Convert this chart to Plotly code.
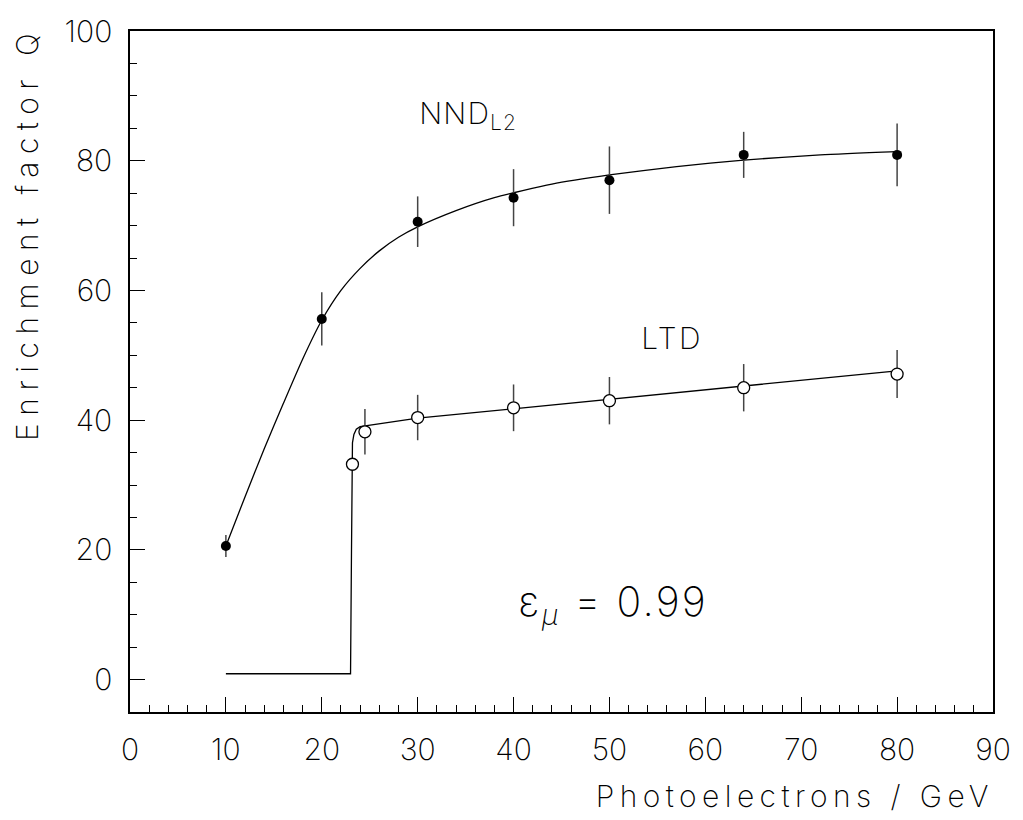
import plotly.graph_objects as go

# ---- data ----
nnd_x = [10, 20, 30, 40, 50, 64, 80]
nnd_y = [20.6, 55.6, 70.6, 74.3, 77.0, 80.9, 80.9]
nnd_err = [1.7, 4.1, 3.9, 4.4, 5.2, 3.55, 4.85]

ltd_x = [23.2, 24.5, 30, 40, 50, 64, 80]
ltd_y = [33.2, 38.2, 40.4, 41.9, 43.0, 45.0, 47.1]
ltd_err = [0, 3.5, 3.5, 3.6, 3.65, 3.65, 3.7]

# fitted curves
nnd_fit_x = [10, 12, 14, 16, 18, 20, 22, 24, 26, 28, 30, 34, 38, 44, 50, 57, 64, 72, 80]
nnd_fit_y = [20.6, 28.2, 35.6, 42.6, 49.4, 55.4, 60.0, 63.4, 66.1, 68.2, 69.8, 72.3, 74.3, 76.4, 77.8, 79.1, 80.1, 80.9, 81.4]

ltd_fit_x = [10, 23.0, 23.1, 23.2, 23.35, 23.6, 24.0, 30, 80]
ltd_fit_y = [0.9, 0.9, 20.0, 36.5, 37.8, 38.6, 39.0, 40.3, 47.6]

x_ticks = [0, 10, 20, 30, 40, 50, 60, 70, 80, 90]
y_ticks = [0, 20, 40, 60, 80, 100]

FS = 30
FONT = dict(family="Inter", size=FS, color="black", weight=200)
FONT_EPS = dict(family="Inter", size=41, color="black", weight=200)

fig = go.Figure()

fig.add_trace(go.Scatter(x=nnd_fit_x, y=nnd_fit_y, mode="lines",
                         line=dict(color="black", width=1.3, shape="spline", smoothing=0.6),
                         hoverinfo="skip", showlegend=False))
fig.add_trace(go.Scatter(x=ltd_fit_x, y=ltd_fit_y, mode="lines",
                         line=dict(color="black", width=1.3),
                         hoverinfo="skip", showlegend=False))

fig.add_trace(go.Scatter(x=nnd_x, y=nnd_y, mode="markers",
                         marker=dict(color="black", size=10, symbol="circle"),
                         error_y=dict(type="data", array=nnd_err, width=0, thickness=1.5, color="#444"),
                         showlegend=False))
fig.add_trace(go.Scatter(x=ltd_x, y=ltd_y, mode="markers",
                         marker=dict(color="white", size=12, symbol="circle",
                                     line=dict(color="black", width=1.3)),
                         error_y=dict(type="data", array=ltd_err, width=0, thickness=1.5, color="#444"),
                         showlegend=False))

axis_common = dict(showline=True, linecolor="black", linewidth=1.5, mirror=True,
                   showgrid=False, zeroline=False, ticks="inside", ticklen=15,
                   tickwidth=1.3, tickcolor="black", tickfont=FONT)

fig.update_xaxes(range=[0, 90], tickvals=x_ticks, ticktext=[str(v) for v in x_ticks],
                 minor=dict(dtick=2, tick0=0, ticks="inside", ticklen=7, tickwidth=1.3, tickcolor="black"),
                 ticklabelstandoff=10, **axis_common)
fig.update_yaxes(range=[-5, 100], tickvals=y_ticks, ticktext=[str(v) for v in y_ticks],
                 minor=dict(dtick=5, tick0=0, ticks="inside", ticklen=7, tickwidth=1.3, tickcolor="black"),
                 ticklabelstandoff=10, **axis_common)

annotations = [
    dict(text="Photoelectrons / GeV", xref="paper", yref="paper", x=0.770, y=-0.123,
         xanchor="center", yanchor="middle", showarrow=False, font=FONT),
    dict(text="Enrichment factor Q", xref="paper", yref="paper", x=-0.119, y=0.703,
         xanchor="center", yanchor="middle", textangle=-90, showarrow=False, font=FONT),
    dict(text="NND<sub>L2</sub>", xref="x", yref="y", x=35.3, y=87.1,
         xanchor="center", yanchor="middle", showarrow=False, font=FONT),
    dict(text="LTD", xref="x", yref="y", x=56.5, y=52.6,
         xanchor="center", yanchor="middle", showarrow=False, font=FONT),
    dict(text="ε<sub><i>μ</i></sub> = 0.99", xref="x", yref="y",
         x=50.35, y=11.6, xanchor="center", yanchor="middle", showarrow=False, font=FONT_EPS),
]

fig.update_layout(width=1023, height=820, margin=dict(l=130, r=26, t=22, b=108),
                  plot_bgcolor="white", paper_bgcolor="white",
                  annotations=annotations, showlegend=False)

# widen the letter spacing of the annotation texts to match the reference's wide lettering
post = """
(document.fonts ? document.fonts.ready : Promise.resolve()).then(function(){
  var gd = document.getElementById('{plot_id}');
  var targets = {0: 398, 1: 415, 2: 100, 3: 62, 4: 194};
  Object.keys(targets).forEach(function(k){
    var t = gd.querySelector('g.annotation[data-index="' + k + '"] text.annotation-text');
    if (!t) return;
    var n = t.textContent.length;
    var w = t.getBBox().width;
    var ls = (targets[k] - w) / n;
    if (ls > 0) t.style.letterSpacing = ls.toFixed(2) + 'px';
  });
});
"""

fig.write_html("out.html", post_script=post)
